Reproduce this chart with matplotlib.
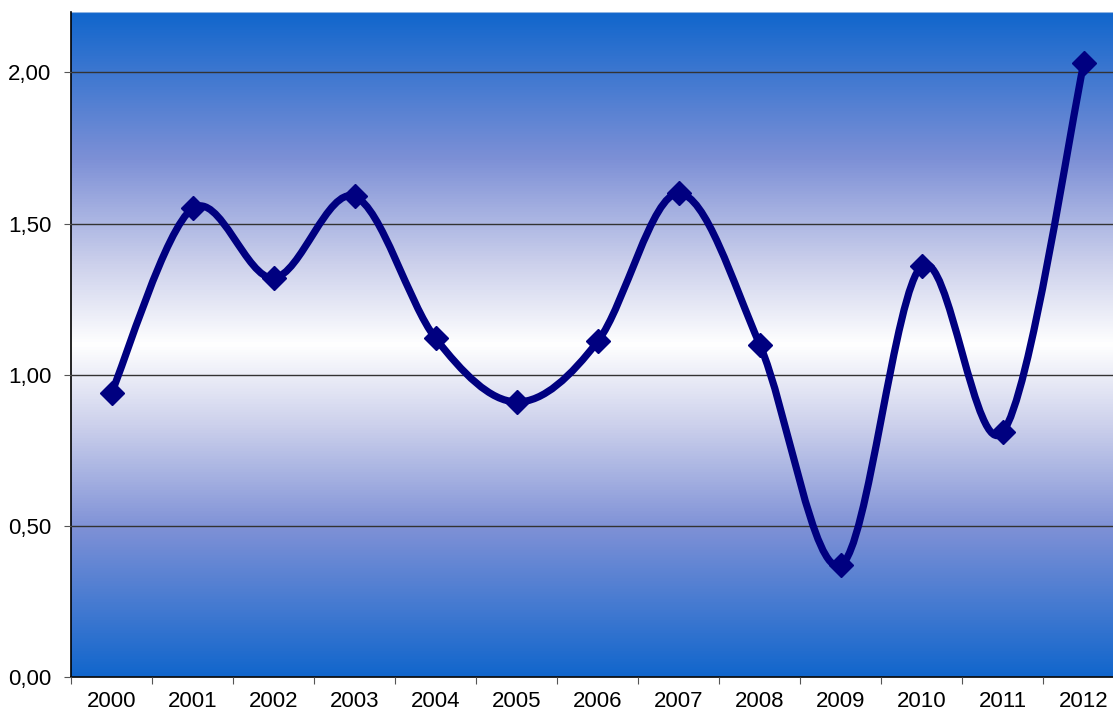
import numpy as np
import matplotlib
matplotlib.use('agg')
from matplotlib import pyplot as plt
from matplotlib.path import Path
from matplotlib.patches import PathPatch
from matplotlib.colors import LinearSegmentedColormap
from matplotlib.ticker import FuncFormatter, FixedLocator

plt.rcParams['font.family'] = ['Liberation Sans', 'DejaVu Sans']

years = ['2000', '2001', '2002', '2003', '2004', '2005', '2006',
         '2007', '2008', '2009', '2010', '2011', '2012']
values = [0.94, 1.55, 1.32, 1.59, 1.12, 0.91, 1.11,
          1.60, 1.10, 0.37, 1.36, 0.81, 2.03]

fig = plt.figure(figsize=(11.13, 7.13), dpi=100)
ax = fig.add_axes([71 / 1113, 36 / 713, 1 - 71 / 1113, 665 / 713])

x = np.arange(len(years))
y = np.array(values)
ax.set_xlim(-0.5, 12.36)
ax.set_ylim(0, 2.2)

# background gradient: blue - white - blue
cmap = LinearSegmentedColormap.from_list(
    'bg', [(0, '#1166cc'), (0.22, '#7d90d6'), (0.38, '#cdd1ec'),
           (0.5, '#ffffff'), (0.62, '#cdd1ec'), (0.78, '#7d90d6'), (1, '#1166cc')])
grad = np.linspace(0, 1, 512).reshape(-1, 1)
ax.imshow(grad, cmap=cmap, aspect='auto', extent=[-0.5, 12.36, 0, 2.2],
          origin='lower', zorder=0)

ax.grid(axis='y', color='#333333', linewidth=1, zorder=1)
ax.set_axisbelow(False)

# smoothed line (Catmull-Rom style bezier like Excel)
pts = np.column_stack([x, y]).astype(float)
verts = [pts[0]]
codes = [Path.MOVETO]
n = len(pts)
for i in range(n - 1):
    p0 = pts[i - 1] if i > 0 else pts[i]
    p1 = pts[i]
    p2 = pts[i + 1]
    p3 = pts[i + 2] if i + 2 < n else pts[i + 1]
    c1 = p1 + (p2 - p0) / 6
    c2 = p2 - (p3 - p1) / 6
    verts += [c1, c2, p2]
    codes += [Path.CURVE4] * 3
path = Path(verts, codes)
ax.add_patch(PathPatch(path, facecolor='none', edgecolor='#000080',
                       linewidth=5.2, capstyle='round', joinstyle='round', zorder=3))
ax.plot(x, y, linestyle='none', marker='D', markersize=12,
        color='#000080', zorder=4)

# axes styling
for s in ['top', 'right']:
    ax.spines[s].set_visible(False)
ax.spines['left'].set_color('black')
ax.spines['bottom'].set_color('black')
ax.spines['left'].set_linewidth(1.2)
ax.spines['bottom'].set_linewidth(1.2)
ax.axhline(2.2, color='#8fb4e3', linewidth=1.5, zorder=2)

ax.set_yticks([0, 0.5, 1.0, 1.5, 2.0])
ax.yaxis.set_major_formatter(FuncFormatter(lambda v, p: ('%.2f' % v).replace('.', ',')))
ax.xaxis.set_major_locator(FixedLocator(np.arange(-0.5, 12.5, 1)))
ax.xaxis.set_major_formatter(FuncFormatter(lambda v, p: ''))
ax.set_xticks(x, minor=True)
ax.set_xticklabels(years, minor=True)
ax.tick_params(axis='x', which='major', length=5, color='#555555', direction='out')
ax.tick_params(axis='x', which='minor', length=0, pad=10, labelsize=16)
ax.tick_params(axis='y', length=5, color='#555555', direction='out', pad=9, labelsize=16)

fig.savefig('out.png', dpi=100)
